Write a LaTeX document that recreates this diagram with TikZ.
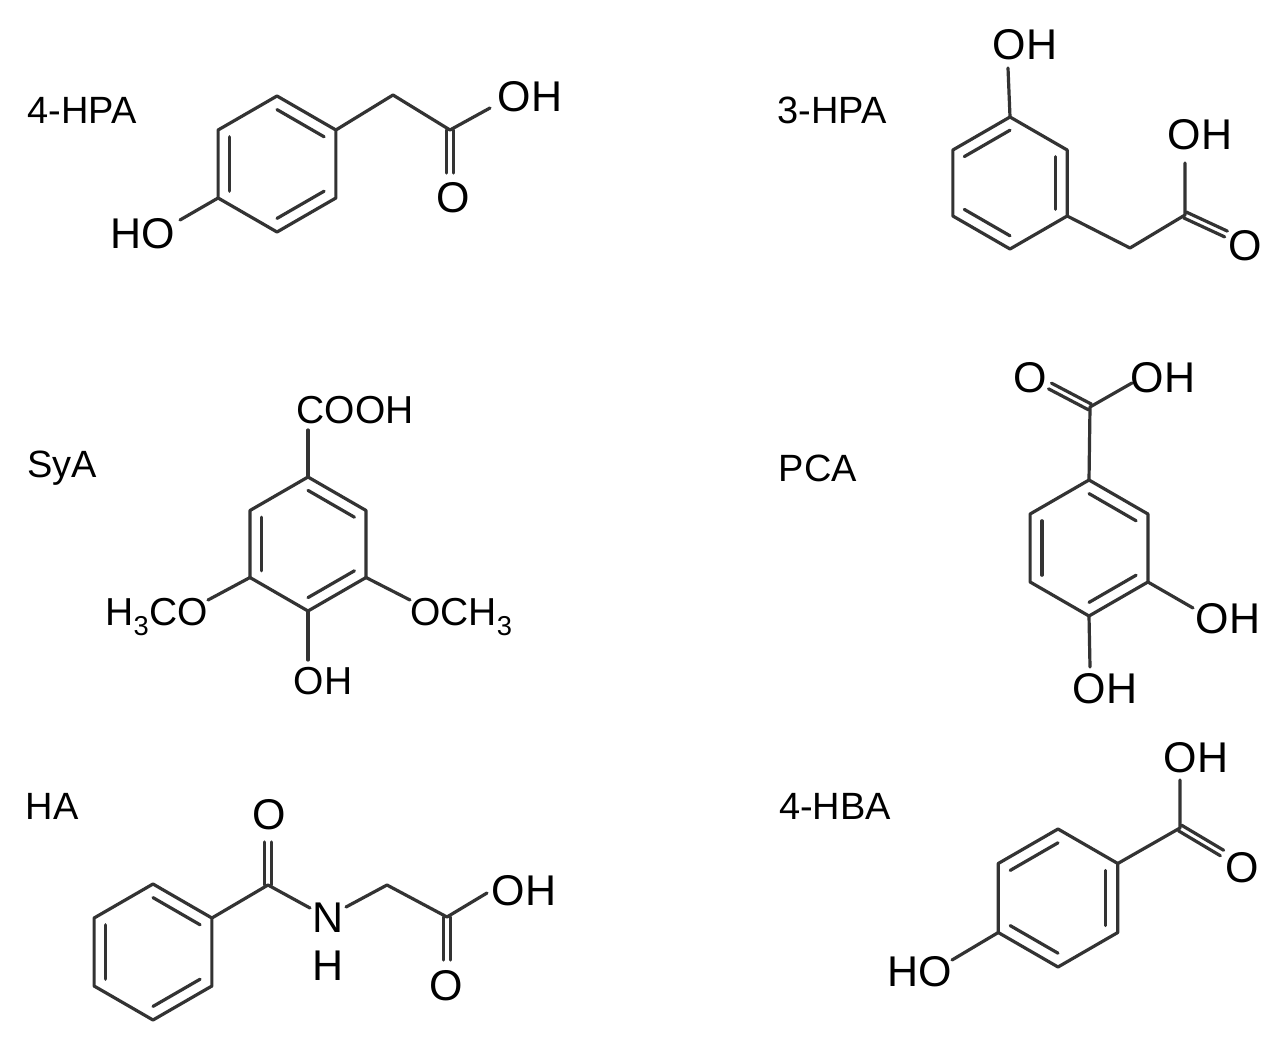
\documentclass[tikz,border=0pt]{standalone}
\usepackage{fontspec}
\setmainfont{Liberation Sans}
\usetikzlibrary{calc}
\tikzset{bond/.style={line width=3.2pt,color=black!80,line cap=round,line join=round},
 atom/.style={inner sep=0pt,font=\fontsize{43}{44}\selectfont},
 satom/.style={inner sep=0pt,font=\fontsize{39}{40}\selectfont},
 lbl/.style={inner sep=0pt,font=\fontsize{38}{40}\selectfont}}
\newcommand\hexring[4]{%
 \coordinate (#1c) at (#2,#3);
 \coordinate (#1t) at (#2,{#3-#4});
 \coordinate (#1ur) at ({#2+0.866*#4},{#3-0.5*#4});
 \coordinate (#1lr) at ({#2+0.866*#4},{#3+0.5*#4});
 \coordinate (#1b) at (#2,{#3+#4});
 \coordinate (#1ll) at ({#2-0.866*#4},{#3+0.5*#4});
 \coordinate (#1ul) at ({#2-0.866*#4},{#3-0.5*#4});
 \draw[bond] (#1t)--(#1ur)--(#1lr)--(#1b)--(#1ll)--(#1ul)--cycle;}
\newcommand\inner[3]{\draw[bond] ($(#1c)!0.8!(#1#2)$)--($(#1c)!0.8!(#1#3)$);}
\newcommand\dbond[2]{\draw[bond] ($(#1)!3.2pt!90:(#2)$)--($(#2)!3.2pt!-90:(#1)$);
 \draw[bond] ($(#1)!3.2pt!-90:(#2)$)--($(#2)!3.2pt!90:(#1)$);}
\begin{document}
\begin{tikzpicture}[x=1pt,y=-1pt]
\useasboundingbox[fill=white] (0,0) rectangle (1284,1040);
% labels
\node[lbl] (l1) at (82,110) {4-HPA};
\node[lbl] (l2) at (832,110) {3-HPA};
\node[lbl] (l3) at (62,468) {SyA};
\node[lbl] (l4) at (818,468) {PCA};
\node[lbl] (l5) at (52,806) {HA};
\node[lbl] (l6) at (835,806) {4-HBA};
% 4-HPA
\hexring{a}{277}{164}{68}
\inner{a}{t}{ur}\inner{a}{lr}{b}\inner{a}{ll}{ul}
\coordinate (a1) at (393,95); \coordinate (a2) at (450,130);
\coordinate (a3) at (490,108); \coordinate (a4) at (450,173); \coordinate (a5) at (180,220);
\draw[bond] (aur)--(a1)--(a2)--(a3);
\dbond{a2}{a4}
\draw[bond] (all)--(a5);
\node[atom] (aOH) at (530,97) {OH};
\node[atom] (aO) at (453,198) {O};
\node[atom] (aHO) at (143,234) {HO};
% 3-HPA
\hexring{b}{1010}{183}{66}
\inner{b}{ul}{t}\inner{b}{ur}{lr}\inner{b}{b}{ll}
\coordinate (b1) at (1008,68); \coordinate (b2) at (1130,248); \coordinate (b3) at (1185,215);
\coordinate (b4) at (1185,163); \coordinate (b5) at (1226,234);
\draw[bond] (bt)--(b1);
\draw[bond] (blr)--(b2)--(b3)--(b4);
\dbond{b3}{b5}
\node[atom] (bOH1) at (1025,45) {OH};
\node[atom] (bOH2) at (1200,135) {OH};
\node[atom] (bO) at (1245,246) {O};
% SyA
\hexring{s}{308}{544}{67}
\inner{s}{t}{ur}\inner{s}{lr}{b}\inner{s}{ll}{ul}
\coordinate (s1) at (308,430); \coordinate (s2) at (308,660);
\coordinate (s3) at (208,600); \coordinate (s4) at (410,600);
\draw[bond] (st)--(s1); \draw[bond] (sb)--(s2);
\draw[bond] (sll)--(s3); \draw[bond] (slr)--(s4);
\node[satom] (sCOOH) at (355,410) {COOH};
\node[satom] (sOH) at (323,681) {OH};
\node[satom,anchor=east] (sL) at (208,617) {H\textsubscript{3}CO};
\node[satom,anchor=west] (sR) at (410,617) {OCH\textsubscript{3}};
% PCA
\hexring{p}{1089}{548}{68}
\inner{p}{t}{ur}\inner{p}{lr}{b}\inner{p}{ll}{ul}
\coordinate (p1) at (1090,407); \coordinate (p2) at (1132,383); \coordinate (p3) at (1050,386);
\coordinate (p4) at (1193,608); \coordinate (p5) at (1090,667);
\draw[bond] (pt)--(p1)--(p2);
\dbond{p1}{p3}
\draw[bond] (plr)--(p4); \draw[bond] (pb)--(p5);
\node[atom] (pO) at (1030,378) {O};
\node[atom] (pOH1) at (1163,378) {OH};
\node[atom] (pOH2) at (1228,619) {OH};
\node[atom] (pOH3) at (1105,689) {OH};
% HA
\hexring{h}{153}{952}{68}
\inner{h}{t}{ur}\inner{h}{lr}{b}\inner{h}{ll}{ul}
\coordinate (h1) at (268,885); \coordinate (h2) at (268,842);
\coordinate (h3) at (310,908); \coordinate (h4) at (346,907);
\coordinate (h5) at (387,885); \coordinate (h6) at (447,917);
\coordinate (h7) at (487,893); \coordinate (h8) at (447,960);
\draw[bond] (hur)--(h1)--(h3);
\dbond{h1}{h2}
\draw[bond] (h4)--(h5)--(h6)--(h7);
\dbond{h6}{h8}
\node[atom] (hO1) at (269,815) {O};
\node[atom] (hN) at (328,918) {N};
\node[atom] (hH) at (328,966) {H};
\node[atom] (hOH) at (524,891) {OH};
\node[atom] (hO2) at (446,986) {O};
% 4-HBA
\hexring{q}{1058}{898}{69}
\inner{q}{t}{ul}\inner{q}{ur}{lr}\inner{q}{ll}{b}
\coordinate (q1) at (1180,828); \coordinate (q2) at (1180,780);
\coordinate (q3) at (1222,853); \coordinate (q4) at (952,960);
\draw[bond] (qur)--(q1)--(q2);
\dbond{q1}{q3}
\draw[bond] (qll)--(q4);
\node[atom] (qOH) at (1196,758) {OH};
\node[atom] (qO) at (1242,868) {O};
\node[atom] (qHO) at (920,972) {HO};
\end{tikzpicture}
\end{document}
